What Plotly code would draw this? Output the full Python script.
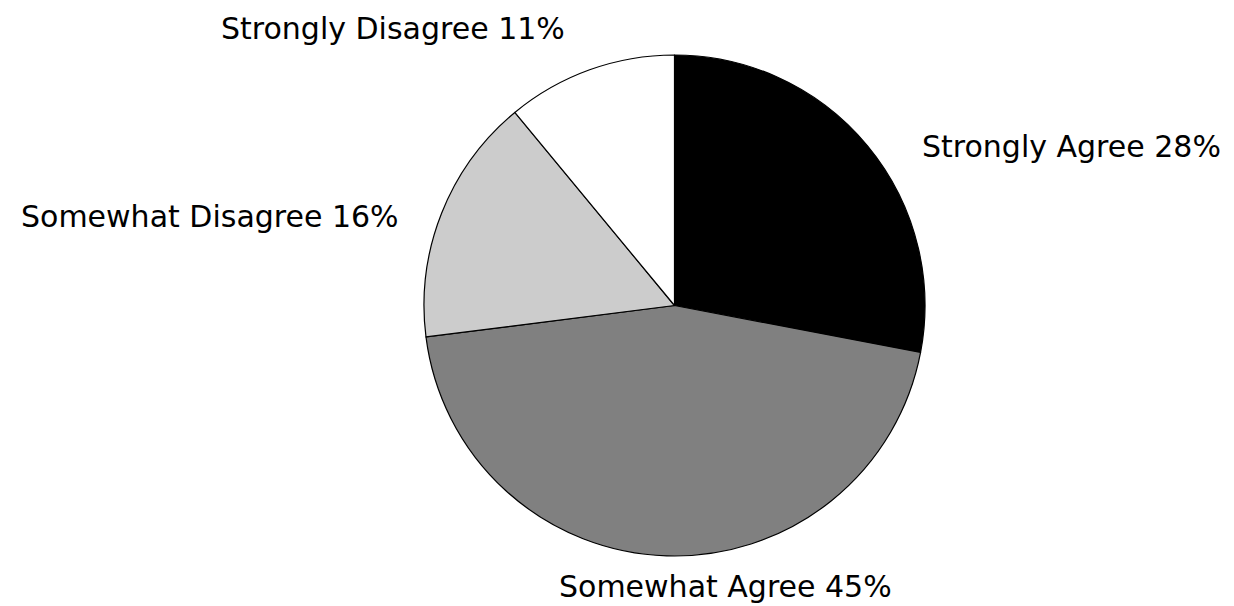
import plotly.graph_objects as go

categories = ["Strongly Agree", "Somewhat Agree", "Somewhat Disagree", "Strongly Disagree"]
values = [28, 45, 16, 11]
colors = ["#000000", "#808080", "#cccccc", "#ffffff"]

W, H = 1234, 606
cx, cy, r = 674.5, 305.5, 250.5

fig = go.Figure(go.Pie(
    labels=categories,
    values=values,
    sort=False,
    direction="clockwise",
    rotation=0,
    marker=dict(colors=colors, line=dict(color="#000000", width=1.2)),
    textinfo="none",
    hoverinfo="label+percent",
    showlegend=False,
    domain=dict(x=[(cx - r) / W, (cx + r) / W], y=[(H - cy - r) / H, (H - cy + r) / H]),
))

# label anchor positions (pixel centres)
label_pos = [(1071, 146), (725, 586), (210, 216), (392.5, 28)]
font = dict(family="DejaVu Sans, sans-serif", size=30, color="#000000")
for cat, val, (px, py) in zip(categories, values, label_pos):
    fig.add_annotation(
        text=f"{cat} {val}%", x=px / W, y=1 - py / H, xref="paper", yref="paper",
        xanchor="center", yanchor="middle", showarrow=False, font=font, borderpad=0,
    )

fig.update_layout(
    width=W, height=H, margin=dict(l=0, r=0, t=0, b=0),
    paper_bgcolor="#ffffff", plot_bgcolor="#ffffff",
)
fig.write_html(
    "out.html",
    config={"displayModeBar": False},
    post_script="document.body.style.margin='0';document.body.style.overflow='hidden';",
)
